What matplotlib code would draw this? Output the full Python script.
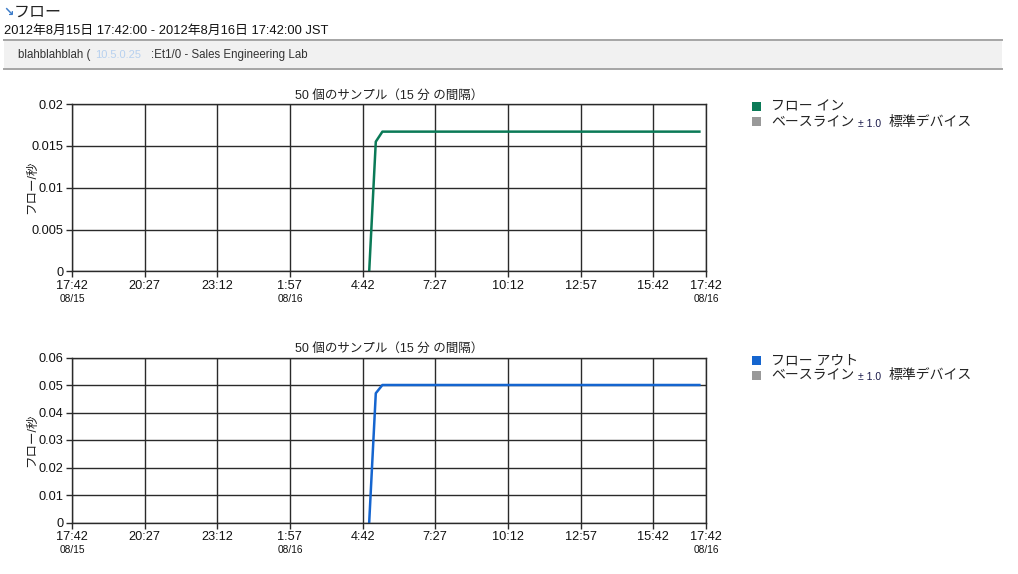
import matplotlib
matplotlib.use('Agg')
import matplotlib.pyplot as plt
import matplotlib.dates as mdates
from matplotlib.patches import Rectangle
import pandas as pd

plt.rcParams['font.family'] = ['Liberation Sans', 'Noto Sans CJK JP', 'DejaVu Sans']

# data
sample_times = pd.date_range('2012-08-16 04:57', periods=51, freq='15min')
flow_in = [0, 0.0155,
           0.0167, 0.0167, 0.0167, 0.0167, 0.0167, 0.0167, 0.0167, 0.0167, 0.0167, 0.0167,
           0.0167, 0.0167, 0.0167, 0.0167, 0.0167, 0.0167, 0.0167, 0.0167, 0.0167, 0.0167,
           0.0167, 0.0167, 0.0167, 0.0167, 0.0167, 0.0167, 0.0167, 0.0167, 0.0167, 0.0167,
           0.0167, 0.0167, 0.0167, 0.0167, 0.0167, 0.0167, 0.0167, 0.0167, 0.0167, 0.0167,
           0.0167, 0.0167, 0.0167, 0.0167, 0.0167, 0.0167, 0.0167, 0.0167, 0.0167]
flow_out = [0, 0.047,
            0.05, 0.05, 0.05, 0.05, 0.05, 0.05, 0.05, 0.05, 0.05, 0.05,
            0.05, 0.05, 0.05, 0.05, 0.05, 0.05, 0.05, 0.05, 0.05, 0.05,
            0.05, 0.05, 0.05, 0.05, 0.05, 0.05, 0.05, 0.05, 0.05, 0.05,
            0.05, 0.05, 0.05, 0.05, 0.05, 0.05, 0.05, 0.05, 0.05, 0.05,
            0.05, 0.05, 0.05, 0.05, 0.05, 0.05, 0.05, 0.05, 0.05]

tick_times = ['2012-08-15 17:42', '2012-08-15 20:27', '2012-08-15 23:12',
              '2012-08-16 01:57', '2012-08-16 04:42', '2012-08-16 07:27',
              '2012-08-16 10:12', '2012-08-16 12:57', '2012-08-16 15:42',
              '2012-08-16 17:42']
tick_labels = ['17:42', '20:27', '23:12', '1:57', '4:42', '7:27',
               '10:12', '12:57', '15:42', '17:42']
date_labels = {0: '08/15', 3: '08/16', 9: '08/16'}

in_yticks = [0, 0.005, 0.01, 0.015, 0.02]
in_ylabels = ['0', '0.005', '0.01', '0.015', '0.02']
out_yticks = [0, 0.01, 0.02, 0.03, 0.04, 0.05, 0.06]
out_ylabels = ['0', '0.01', '0.02', '0.03', '0.04', '0.05', '0.06']

W, H = 1018, 574
fig = plt.figure(figsize=(W / 100, H / 100), dpi=100)


def px(x, y):
    return x / W, 1 - y / H


def ftext(x, y, s, **kw):
    fx, fy = px(x, y)
    fig.text(fx, fy, s, **kw)


# header
ftext(3, 12, '↘', fontsize=9, color='#3d7cc9', fontweight='bold',
      family='DejaVu Sans', va='center')
ftext(14, 12, 'フロー', fontsize=11.5, color='#222222', va='center')
ftext(4, 31, '2012年8月15日 17:42:00 - 2012年8月16日 17:42:00 JST',
      fontsize=9.3, color='#111111', va='center')
x0, y0 = px(4, 69)
x1, y1 = px(1002, 40)
fig.patches.append(Rectangle((x0, y0), x1 - x0, y1 - y0, transform=fig.transFigure,
                             facecolor='#f1f1f1', edgecolor='none'))
for yy in (40, 69):
    a, b = px(4, yy)
    c, _ = px(1002, yy)
    fig.add_artist(plt.Line2D([a, c], [b, b], transform=fig.transFigure,
                              color='#a5a5a5', lw=1.4))
ftext(18, 55, 'blahblahblah (', fontsize=8.3, color='#333333', va='center')
ftext(95, 55, '10.5.0.25', fontsize=8, color='#a9c9ef', va='center', alpha=0.8)
ftext(151, 55, ':Et1/0 - Sales Engineering Lab', fontsize=8.3, color='#333333', va='center')


def make_panel(top, bottom, values, color, yticks, ylabels, name):
    l, b = px(72, bottom)
    r, t = px(706, top)
    ax = fig.add_axes([l, b, r - l, t - b])
    ax.plot(sample_times, values, color=color, lw=1.8)
    xt = pd.to_datetime(tick_times)
    ax.set_xlim(xt[0], xt[-1])
    ax.set_ylim(yticks[0], yticks[-1])
    ax.set_xticks(xt)
    ax.set_xticklabels(tick_labels, fontsize=9.2, color='#111111')
    ax.set_yticks(yticks)
    ax.set_yticklabels(ylabels, fontsize=9.2, color='#111111')
    ax.grid(True, color='#2a2a2a', lw=1)
    ax.set_axisbelow(True)
    for s in ax.spines.values():
        s.set_color('#2a2a2a')
        s.set_linewidth(1)
    ax.tick_params(length=4, width=1, color='#2a2a2a', pad=2)
    for i, d in date_labels.items():
        ax.text(mdates.date2num(xt[i]), -0.135, d, transform=ax.get_xaxis_transform(),
                ha='center', va='top', fontsize=7.3, color='#111111')
    ax.set_title('50 個のサンプル（15 分 の間隔）', fontsize=9, color='#222222', pad=4)
    ax.set_ylabel('フロー/秒', fontsize=9, color='#222222')
    ax.yaxis.set_label_coords(-0.053, 0.5)

    # legend
    ly = top + 3
    sx, sy = px(752, ly + 4)
    fig.patches.append(Rectangle((sx, sy), 9 / W, 9 / H, transform=fig.transFigure,
                                 facecolor=color, edgecolor='none'))
    ftext(771, ly, name, fontsize=10, color='#222222', va='center')
    sx, sy = px(752, ly + 19)
    fig.patches.append(Rectangle((sx, sy), 9 / W, 9 / H, transform=fig.transFigure,
                                 facecolor='#999999', edgecolor='none'))
    ftext(771, ly + 15, 'ベースライン', fontsize=10, color='#222222', va='center')
    ftext(858, ly + 17, '± 1.0', fontsize=7.5, color='#1a1a4a', va='center')
    ftext(889, ly + 15, '標準デバイス', fontsize=10, color='#222222', va='center')
    return ax


make_panel(104, 271.5, flow_in, '#0b7a57', in_yticks, in_ylabels, 'フロー イン')
make_panel(357.5, 522.5, flow_out, '#1565cf', out_yticks, out_ylabels, 'フロー アウト')

fig.savefig('out.png', dpi=100, facecolor='white')
